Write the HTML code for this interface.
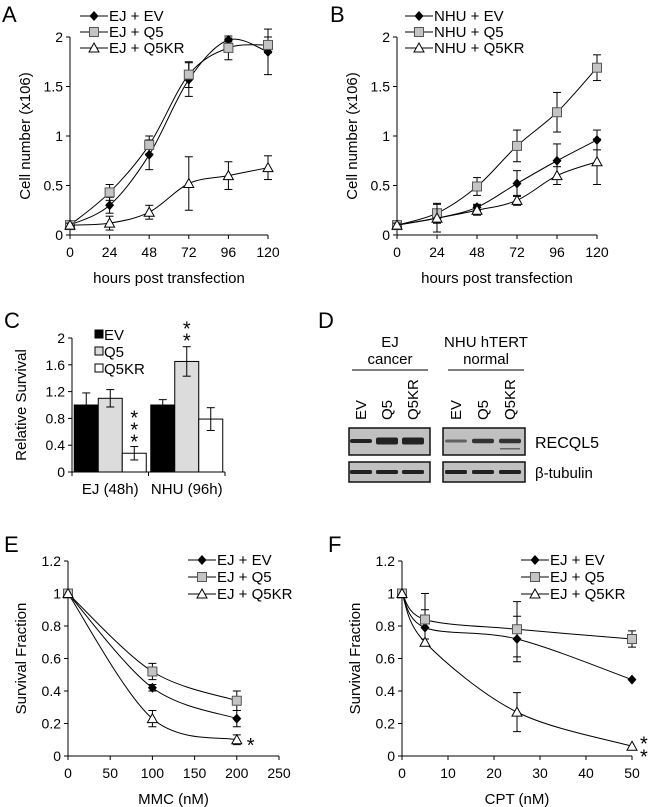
<!DOCTYPE html>
<html><head><meta charset="utf-8"><style>
body{margin:0;background:#fff}
svg{display:block;font-family:"Liberation Sans",Arial,sans-serif}
</style></head><body>
<svg id="fig" width="650" height="807" viewBox="0 0 650 807" xmlns="http://www.w3.org/2000/svg"></svg>
<script>
// ---- Panel A data ----
const hoursA = [0,24,48,72,96,120];
const aEV = [0.1,0.3,0.81,1.57,1.97,1.85];
const aEVerr = [0.02,0.08,0.15,0.17,0.02,0.23];
const aQ5 = [0.1,0.43,0.91,1.62,1.89,1.92];
const aQ5err = [0.02,0.08,0.09,0.13,0.12,0.08];
const aKR = [0.1,0.12,0.23,0.52,0.6,0.68];
const aKRerr = [0.02,0.07,0.07,0.27,0.14,0.12];
// ---- Panel B data ----
const bEV = [0.1,0.17,0.28,0.52,0.75,0.96];
const bEVerr = [0.02,0.05,0.03,0.13,0.17,0.1];
const bQ5 = [0.1,0.22,0.49,0.9,1.24,1.69];
const bQ5err = [0.02,0.1,0.09,0.16,0.2,0.13];
const bKR = [0.1,0.17,0.25,0.35,0.6,0.74];
const bKRerr = [0.02,0.14,0.05,0.05,0.09,0.23];
const ticksAB_y = [0,0.5,1,1.5,2];
const tickLabelsAB_y = ["0","0.5","1","1.5","2"];
// ---- Panel C data ----
const cGroups = ["EJ (48h)","NHU (96h)"];
const cEV = [1.0,1.0];
const cEVerr = [0.18,0.08];
const cQ5 = [1.1,1.65];
const cQ5err = [0.13,0.22];
const cKR = [0.28,0.79];
const cKRerr = [0.1,0.17];
const ticksC_y = [0,0.4,0.8,1.2,1.6,2];
// ---- Panel E data ----
const mmc = [0,100,200];
const eEV = [1,0.42,0.23];
const eEVerr = [0,0.02,0.05];
const eQ5 = [1,0.52,0.34];
const eQ5err = [0,0.05,0.06];
const eKR = [1,0.23,0.1];
const eKRerr = [0,0.05,0.03];
const ticksE_x = [0,50,100,150,200,250];
// ---- Panel F data ----
const cpt = [0,5,25,50];
const fEV = [1,0.79,0.72,0.47];
const fEVerr = [0,0.11,0.14,0.01];
const fQ5 = [1,0.84,0.78,0.72];
const fQ5err = [0,0.16,0.17,0.05];
const fKR = [1,0.7,0.27,0.06];
const fKRerr = [0,0.02,0.12,0.01];
const ticksF_x = [0,10,20,30,40,50];
const ticksEF_y = [0,0.2,0.4,0.6,0.8,1,1.2];

const NS="http://www.w3.org/2000/svg";
const svg=document.getElementById('fig');
function mk(tag,attrs,parent){const e=document.createElementNS(NS,tag);for(const k in attrs)e.setAttribute(k,attrs[k]);(parent||svg).appendChild(e);return e;}
function txt(s,x,y,size,anchor,parent,rot){const t=mk('text',{x:x,y:y,'font-size':size,'text-anchor':anchor||'start',fill:'#000'},parent);if(rot)t.setAttribute('transform','rotate(-90 '+x+' '+y+')');t.textContent=s;return t;}
function lin(d0,d1,r0,r1){return v=>r0+(v-d0)/(d1-d0)*(r1-r0);}
function smoothPath(pts){let d='M'+pts[0][0]+','+pts[0][1];for(let i=0;i<pts.length-1;i++){const p0=pts[Math.max(0,i-1)],p1=pts[i],p2=pts[i+1],p3=pts[Math.min(pts.length-1,i+2)];const c1x=p1[0]+(p2[0]-p0[0])/6,c1y=p1[1]+(p2[1]-p0[1])/6,c2x=p2[0]-(p3[0]-p1[0])/6,c2y=p2[1]-(p3[1]-p1[1])/6;d+=' C'+c1x+','+c1y+' '+c2x+','+c2y+' '+p2[0]+','+p2[1];}return d;}
function marker(type,x,y,g){
  if(type==='diamond')return mk('polygon',{points:(x)+','+(y-5)+' '+(x+4.5)+','+y+' '+x+','+(y+5)+' '+(x-4.5)+','+y,fill:'#000'},g);
  if(type==='square')return mk('rect',{x:x-4.5,y:y-4.5,width:9,height:9,fill:'#c4c4c4',stroke:'#555','stroke-width':1},g);
  return mk('polygon',{points:x+','+(y-5)+' '+(x+5)+','+(y+4)+' '+(x-5)+','+(y+4),fill:'#fff',stroke:'#000','stroke-width':1},g);
}
function lineChart(o){
  const g=mk('g',{});
  const X=lin(o.xd[0],o.xd[1],o.x0,o.x1),Y=lin(o.yd[0],o.yd[1],o.y0,o.y1);
  mk('line',{x1:o.x0,y1:o.y0,x2:o.x0,y2:o.y1,stroke:'#000','stroke-width':1},g);
  mk('line',{x1:o.x0,y1:o.y0,x2:X(o.xd[1]),y2:o.y0,stroke:'#000','stroke-width':1},g);
  o.yt.forEach((v,i)=>{mk('line',{x1:o.x0-4,y1:Y(v),x2:o.x0,y2:Y(v),stroke:'#000'},g);txt(o.ytl?o.ytl[i]:String(v),o.x0-7,Y(v)+5,14,'end',g);});
  o.xt.forEach(v=>{mk('line',{x1:X(v),y1:o.y0,x2:X(v),y2:o.y0+4,stroke:'#000'},g);txt(String(v),X(v),o.y0+22,14,'middle',g);});
  txt(o.xlabel,(o.x0+X(o.xd[1]))/2,o.xly,15,'middle',g);
  txt(o.ylabel,o.ylx,(o.y0+o.y1)/2,15,'middle',g,true);
  o.series.forEach(s=>{
    const sg=mk('g',{},g);
    const pts=o.xs.map((xv,i)=>[X(xv),Y(s.v[i])]);
    mk('path',{d:smoothPath(pts),fill:'none',stroke:'#000','stroke-width':1},sg);
    o.xs.forEach((xv,i)=>{if(s.e[i]>0.015){const x=X(xv);mk('line',{x1:x,y1:Y(s.v[i]+s.e[i]),x2:x,y2:Y(s.v[i]-s.e[i]),stroke:'#000'},sg);[s.v[i]+s.e[i],s.v[i]-s.e[i]].forEach(w=>mk('line',{x1:x-4,y1:Y(w),x2:x+4,y2:Y(w),stroke:'#000'},sg));}});
    o.xs.forEach((xv,i)=>marker(s.m,X(xv),Y(s.v[i]),sg));
  });
  o.series.forEach((s,i)=>{const lg=mk('g',{},g);
    const ly=o.ly+i*o.lstep;mk('line',{x1:o.lx,y1:ly,x2:o.lx+28,y2:ly,stroke:'#000'},lg);marker(s.m,o.lx+14,ly,lg);txt(s.label,o.lx+29,ly+5,15,'start',lg);});
  txt(o.letter,o.letterX,o.letterY,22,'start',g);
  return {X,Y,g};
}
lineChart({name:'panel-a-chart',letter:'A',letterX:2,letterY:22,x0:70,x1:268,y0:235,y1:37,xd:[0,120],yd:[0,2],xs:hoursA,xt:hoursA,yt:ticksAB_y,ytl:tickLabelsAB_y,xlabel:'hours post transfection',xly:283,ylabel:'Cell number (x106)',ylx:30,lx:80,ly:16,lstep:16,
 series:[{name:'series-ej-ev',label:'EJ + EV',m:'diamond',v:aEV,e:aEVerr},{name:'series-ej-q5',label:'EJ + Q5',m:'square',v:aQ5,e:aQ5err},{name:'series-ej-q5kr',label:'EJ + Q5KR',m:'triangle',v:aKR,e:aKRerr}]});
lineChart({name:'panel-b-chart',letter:'B',letterX:330,letterY:22,x0:397,x1:597,y0:235,y1:37,xd:[0,120],yd:[0,2],xs:hoursA,xt:hoursA,yt:ticksAB_y,ytl:tickLabelsAB_y,xlabel:'hours post transfection',xly:283,ylabel:'Cell number (x106)',ylx:357,lx:405,ly:16,lstep:16,
 series:[{name:'series-nhu-ev',label:'NHU + EV',m:'diamond',v:bEV,e:bEVerr},{name:'series-nhu-q5',label:'NHU + Q5',m:'square',v:bQ5,e:bQ5err},{name:'series-nhu-q5kr',label:'NHU + Q5KR',m:'triangle',v:bKR,e:bKRerr}]});
const E=lineChart({name:'panel-e-chart',letter:'E',letterX:4,letterY:552,x0:68,x1:279,y0:756,y1:561,xd:[0,250],yd:[0,1.2],xs:mmc,xt:ticksE_x,yt:ticksEF_y,xlabel:'MMC (nM)',xly:804,ylabel:'Survival Fraction',ylx:26,lx:188,ly:560,lstep:17,
 series:[{name:'series-e-ev',label:'EJ + EV',m:'diamond',v:eEV,e:eEVerr},{name:'series-e-q5',label:'EJ + Q5',m:'square',v:eQ5,e:eQ5err},{name:'series-e-q5kr',label:'EJ + Q5KR',m:'triangle',v:eKR,e:eKRerr}]});
txt('*',E.X(mmc[2])+10,E.Y(eKR[2])+12,20,'start',E.g);
const F=lineChart({name:'panel-f-chart',letter:'F',letterX:328,letterY:552,x0:402,x1:632,y0:756,y1:561,xd:[0,50],yd:[0,1.2],xs:cpt,xt:ticksF_x,yt:ticksEF_y,xlabel:'CPT (nM)',xly:804,ylabel:'Survival Fraction',ylx:360,lx:521,ly:560,lstep:17,
 series:[{name:'series-f-ev',label:'EJ + EV',m:'diamond',v:fEV,e:fEVerr},{name:'series-f-q5',label:'EJ + Q5',m:'square',v:fQ5,e:fQ5err},{name:'series-f-q5kr',label:'EJ + Q5KR',m:'triangle',v:fKR,e:fKRerr}]});
txt('*',F.X(cpt[3])+8,F.Y(fKR[3])+4,20,'start',F.g);
txt('*',F.X(cpt[3])+8,F.Y(fKR[3])+17,20,'start',F.g);

// ---- Panel C bar chart ----
(function(){
  const g=mk('g',{});
  const x0=72,y0=472,y1=338,Y=lin(0,2,y0,y1),gw=76.5,bw=24;
  mk('line',{x1:x0,y1:y0,x2:x0,y2:y1,stroke:'#000'},g);
  mk('line',{x1:x0,y1:y0,x2:x0+gw*cGroups.length,y2:y0,stroke:'#000'},g);
  ticksC_y.forEach(v=>{mk('line',{x1:x0-4,y1:Y(v),x2:x0,y2:Y(v),stroke:'#000'},g);txt(String(v),x0-7,Y(v)+5,14,'end',g);});
  for(let i=0;i<=cGroups.length;i++)mk('line',{x1:x0+gw*i,y1:y0,x2:x0+gw*i,y2:y0+4,stroke:'#000'},g);
  const ser=[{v:cEV,e:cEVerr,f:'#000',n:'bar-ev'},{v:cQ5,e:cQ5err,f:'#dcdcdc',n:'bar-q5'},{v:cKR,e:cKRerr,f:'#fff',n:'bar-q5kr'}];
  cGroups.forEach((gname,gi)=>{
    const cx=x0+gw*gi+gw/2;
    ser.forEach((s,si)=>{const bx=cx+(si-1.5)*bw;
      const r=mk('rect',{x:bx,y:Y(s.v[gi]),width:bw,height:y0-Y(s.v[gi]),fill:s.f,stroke:'#000','stroke-width':1},g);
      
      const mx=bx+bw/2;mk('line',{x1:mx,y1:Y(s.v[gi]+s.e[gi]),x2:mx,y2:Y(s.v[gi]-s.e[gi]),stroke:'#000'},g);
      [s.v[gi]+s.e[gi],s.v[gi]-s.e[gi]].forEach(w=>mk('line',{x1:mx-4,y1:Y(w),x2:mx+4,y2:Y(w),stroke:'#000'},g));
    });
    txt(gname,cx,494,15,'middle',g);
  });
  // significance stars (centers above the error bar)
  const kx=x0+gw*0+gw/2+0.5*bw+bw/2;
  const kTop=Y(cKR[0]+cKRerr[0]);
  [0,1,2].forEach(i=>txt('*',kx,kTop-36+i*12+14,20,'middle',g));
  const qx=x0+gw*1+gw/2-0.5*bw+bw/2;
  const qTop=Y(cQ5[1]+cQ5err[1]);
  [0,1].forEach(i=>txt('*',qx,qTop-25+i*12+14,20,'middle',g));
  // legend
  [['EV','#000'],['Q5','#dcdcdc'],['Q5KR','#fff']].forEach((l,i)=>{const lg=mk('g',{},g);
    const ly=334+i*17;mk('rect',{x:95,y:ly-4,width:8,height:8,fill:l[1],stroke:'#000'},lg);txt(l[0],104,ly+6,15,'start',lg);});
  txt('Relative Survival',26,(y0+y1)/2,15,'middle',g,true);
  txt('C',4,328,22,'start',g);
})();

// ---- Panel D western blot ----
(function(){
  const g=mk('g',{});
  txt('D',318,328,22,'start',g);
  txt('EJ',390,347,15,'middle',g);txt('cancer',390,364,15,'middle',g);
  txt('NHU hTERT',486,347,15,'middle',g);txt('normal',486,364,15,'middle',g);
  mk('line',{x1:352,y1:370,x2:428,y2:370,stroke:'#000'},g);
  mk('line',{x1:448,y1:370,x2:524,y2:370,stroke:'#000'},g);
  const lanes=[361,387,413,456,483,510],lab=['EV','Q5','Q5KR','EV','Q5','Q5KR'];
  lanes.forEach((x,i)=>txt(lab[i],x+5,420,15,'start',g,true));
  const boxes=[[349,430],[443,525]];
  const recq=[[4,1],[7,1],[7,1],[3,.6],[4.5,.9],[4.5,.9]];
  boxes.forEach((b,bi)=>{
    mk('rect',{x:b[0],y:428,width:b[1]-b[0],height:27,fill:'#c0c0c0',stroke:'#111','stroke-width':1.5},g);
    mk('rect',{x:b[0],y:462,width:b[1]-b[0],height:20,fill:'#c0c0c0',stroke:'#111','stroke-width':1.5},g);
    for(let k=0;k<3;k++){const x=lanes[bi*3+k],r=recq[bi*3+k];
      mk('rect',{x:x-11,y:441-r[0]/2,width:22,height:r[0],rx:2,fill:'#222','fill-opacity':r[1]},g);
      mk('rect',{x:x-11,y:470,width:22,height:4,rx:1.5,fill:'#222'},g);}
  });
  mk('rect',{x:500,y:448,width:20,height:1.5,fill:'#666'},g);
  txt('RECQL5',535,448,16,'start',g);
  txt('β-tubulin',535,478,15,'start',g);
})();
</script>
</body></html>
